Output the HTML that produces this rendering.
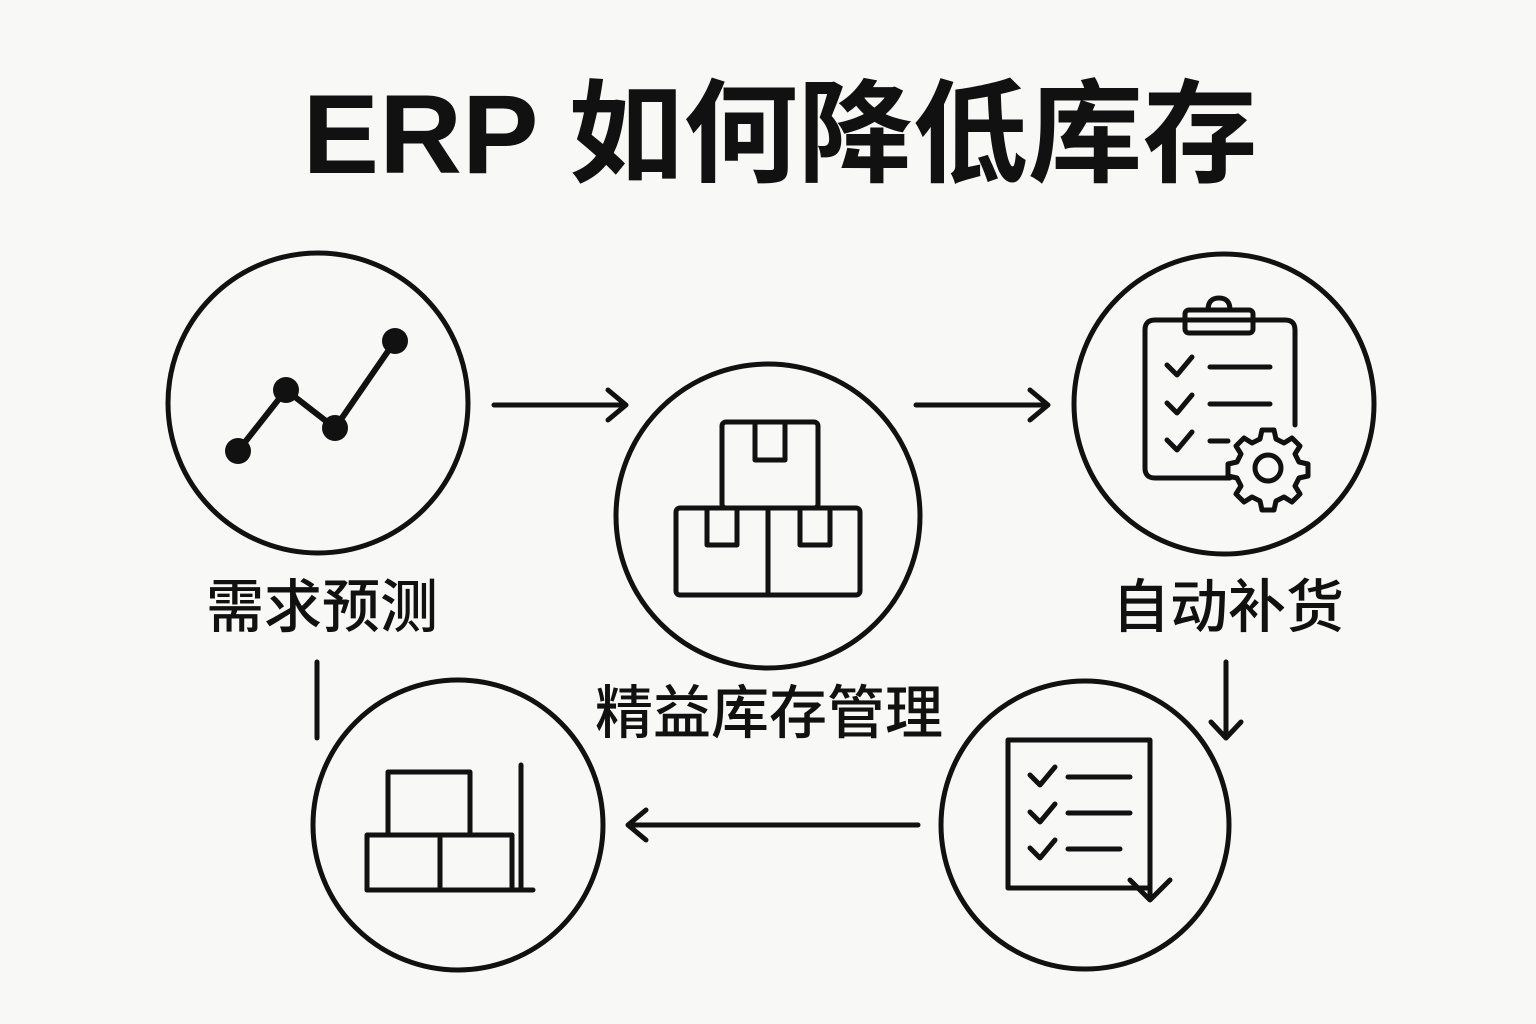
<!DOCTYPE html>
<html><head><meta charset="utf-8"><style>
body{margin:0;background:#f8f8f6;}
svg{display:block}
text{font-family:"Liberation Sans","Noto Sans CJK SC",sans-serif;fill:#111;}
</style></head><body>
<svg width="1536" height="1024" viewBox="0 0 1536 1024" xmlns="http://www.w3.org/2000/svg">
<rect width="1536" height="1024" fill="#f8f8f6"/>
<text x="780" y="173" font-size="112" font-weight="700" text-anchor="middle" textLength="955" lengthAdjust="spacingAndGlyphs">ERP 如何降低库存</text>
<g fill="none" stroke="#111" stroke-width="5" stroke-linecap="round" stroke-linejoin="round">
<circle cx="318" cy="403" r="150"/>
<circle cx="768" cy="516" r="152"/>
<circle cx="1224" cy="404" r="150"/>
<circle cx="458" cy="825" r="145"/>
<circle cx="1085" cy="825" r="144"/>
<!-- arrows -->
<path d="M494 405H626M608 390L626 405L608 420"/>
<path d="M916 405H1048M1030 390L1048 405L1030 420"/>
<path d="M1226 662V738M1211 722L1226 738L1241 722"/>
<path d="M918 825H628M646 810L628 825L646 840"/>
<path d="M317 662V738"/>
<!-- chart -->
<polyline points="238,451 286,390 335,428 395,341" stroke-width="6"/>
<!-- boxes -->
<rect x="722" y="422" width="96" height="86" rx="4"/>
<path d="M755 422V460H785V422"/>
<rect x="676" y="508" width="184" height="87" rx="4"/>
<path d="M768 508V595M707 508V545H737V508M800 508V545H830V508"/>
<!-- clipboard -->
<path d="M1230 478H1155Q1145 478 1145 468V330Q1145 320 1155 320H1285Q1295 320 1295 330V425"/>
<rect x="1185" y="310" width="68" height="23" rx="4"/>
<path d="M1208 310Q1208 298 1219 298Q1230 298 1230 310"/>
<path d="M1167 365l10 10 15-18M1167 403l10 10 15-18M1167 440l10 10 15-18"/>
<path d="M1210 367H1270M1210 404H1270M1210 441H1228"/>
<circle cx="1268" cy="468" r="13"/>
<path d="M1268 430l6 0 2 9 8 4 8-5 8 8-5 8 4 8 9 2 0 12-9 2-4 8 5 8-8 8-8-5-8 4-2 9-12 0-2-9-8-4-8 5-8-8 5-8-4-8-9-2 0-12 9-2 4-8-5-8 8-8 8 5 8-4 2-9z"/>
<!-- shelf -->
<rect x="388" y="772" width="82" height="63"/>
<rect x="367" y="835" width="73" height="55"/>
<rect x="440" y="835" width="72" height="55"/>
<path d="M367 890H533M521 765V890"/>
<!-- doc -->
<path d="M1150 870V888H1008V740H1150V800"/>
<path d="M1030 775l10 10 15-18M1030 812l10 10 15-18M1030 848l10 10 15-18"/>
<path d="M1068 777H1130M1068 813H1130M1068 849H1120"/>
<path d="M1150 800V900M1130 880L1150 900L1170 880"/>
</g>
<g fill="#111">
<circle cx="238" cy="451" r="13"/><circle cx="286" cy="390" r="13"/><circle cx="335" cy="428" r="13"/><circle cx="395" cy="341" r="13"/>
</g>
<text x="322" y="627" font-size="58" font-weight="500" text-anchor="middle">需求预测</text>
<text x="769" y="733" font-size="58" font-weight="500" text-anchor="middle">精益库存管理</text>
<text x="1228" y="627" font-size="58" font-weight="500" text-anchor="middle">自动补货</text>
</svg>
</body></html>
